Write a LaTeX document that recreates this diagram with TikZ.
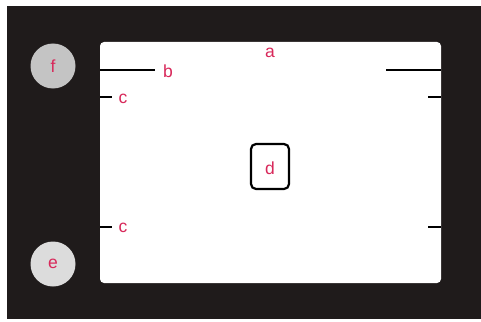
\documentclass[tikz,border=0pt]{standalone}
\usepackage{fontspec}
\setmainfont{Liberation Sans}
\definecolor{bgdark}{HTML}{1F1B1B}
\definecolor{labelred}{HTML}{D8285A}
\definecolor{circF}{HTML}{C4C4C4}
\definecolor{circE}{HTML}{DCDCDC}
\begin{document}
\begin{tikzpicture}[x=1pt,y=-1pt,
  lbl/.style={text=labelred,font=\fontsize{17.5}{17.5}\selectfont,inner sep=0pt},
  mark line/.style={line width=2pt,black},
  knob/.style={circle,minimum size=45pt,inner sep=0pt}]
\useasboundingbox (0,0) rectangle (481,321);
\fill[white] (0,0) rectangle (481,321);
\fill[bgdark] (7,6) rectangle (481,319);
\fill[white,rounded corners=4pt] (100,42) rectangle (441,283);
% frame lines
\coordinate (bl0) at (100,70); \coordinate (bl1) at (155,70);
\coordinate (br0) at (386,70); \coordinate (br1) at (441,70);
\draw[mark line] (bl0) -- (bl1);
\draw[mark line] (br0) -- (br1);
\coordinate (c1a) at (100,97); \coordinate (c1b) at (112,97);
\coordinate (c2a) at (100,227); \coordinate (c2b) at (112,227);
\coordinate (c3a) at (428,97); \coordinate (c3b) at (441,97);
\coordinate (c4a) at (428,227); \coordinate (c4b) at (441,227);
\draw[mark line] (c1a) -- (c1b);
\draw[mark line] (c2a) -- (c2b);
\draw[mark line] (c3a) -- (c3b);
\draw[mark line] (c4a) -- (c4b);
% focus box
\node[draw=black,line width=2.2pt,rounded corners=5pt,minimum width=38pt,minimum height=45pt,inner sep=0pt] (dbox) at (270,166.5) {};
% knobs
\node[knob,fill=circF] (f) at (53,66) {};
\node[knob,fill=circE] (e) at (53,264) {};
% labels
\node[lbl] (a) at (270,53) {a};
\node[lbl] (b) at (168,71) {b};
\node[lbl] (cu) at (123,99) {c};
\node[lbl] (cl) at (123,228) {c};
\node[lbl] (d) at (270,168) {d};
\node[lbl] at (f) {f};
\node[lbl] at (e) {e};
\end{tikzpicture}
\end{document}
